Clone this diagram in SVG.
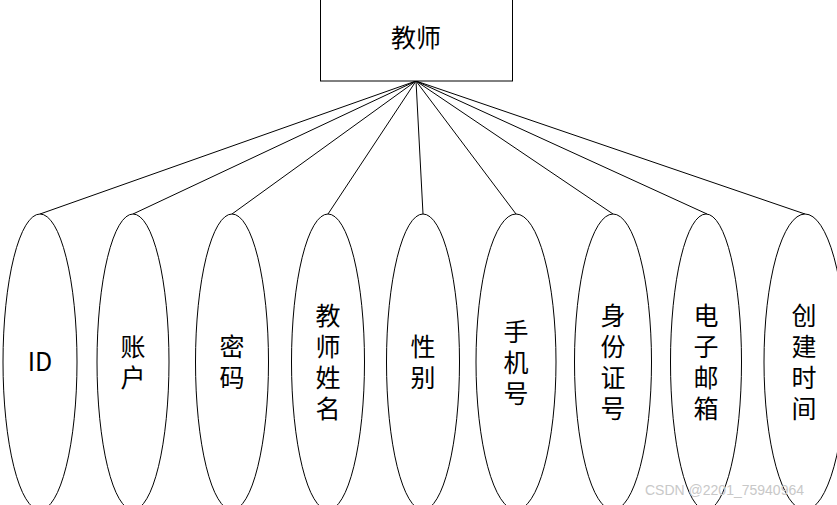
<svg xmlns="http://www.w3.org/2000/svg" width="837" height="505" viewBox="0 0 837 505">
<style>
.box{fill:#fff;stroke:#000;stroke-width:1}
.ell{fill:#fff;stroke:#000;stroke-width:1}
.lbl{font-family:"Noto Sans CJK SC","Noto Sans",sans-serif;font-size:25px;fill:#000;text-anchor:middle;dominant-baseline:central}
.conn line{stroke:#000;stroke-width:1}
.wm{font-family:"Liberation Sans",Arial,sans-serif;font-size:14px;fill:#c8c8c8}
</style>
<rect width="837" height="505" fill="#fff"/>
<g class="conn" id="connectors">
<line x1="416" y1="81" x2="40" y2="214"/>
<line x1="416" y1="81" x2="133" y2="214"/>
<line x1="416" y1="81" x2="232" y2="214"/>
<line x1="416" y1="81" x2="328" y2="214"/>
<line x1="416" y1="81" x2="423" y2="214"/>
<line x1="416" y1="81" x2="516" y2="214"/>
<line x1="416" y1="81" x2="613" y2="214"/>
<line x1="416" y1="81" x2="707" y2="214"/>
<line x1="416" y1="81" x2="805" y2="214"/>
</g>
<g id="teacher">
<rect class="box" x="320.5" y="-1" width="192" height="82"/>
<text class="lbl" x="416" y="36">教师</text>
</g>
<g id="attr-id">
<ellipse class="ell" cx="40" cy="362" rx="37" ry="148"/>
<text class="lbl" x="40" y="360">ID</text>
</g>
<g id="attr-account">
<ellipse class="ell" cx="133" cy="362" rx="36" ry="148"/>
<text class="lbl" x="133" y="345">账</text>
<text class="lbl" x="133" y="376">户</text>
</g>
<g id="attr-password">
<ellipse class="ell" cx="232" cy="362" rx="36.5" ry="148"/>
<text class="lbl" x="232" y="345">密</text>
<text class="lbl" x="232" y="376">码</text>
</g>
<g id="attr-name">
<ellipse class="ell" cx="328" cy="362" rx="36.5" ry="148"/>
<text class="lbl" x="328" y="313.5">教</text>
<text class="lbl" x="328" y="344.5">师</text>
<text class="lbl" x="328" y="375.5">姓</text>
<text class="lbl" x="328" y="406.5">名</text>
</g>
<g id="attr-gender">
<ellipse class="ell" cx="423" cy="362" rx="36.5" ry="148"/>
<text class="lbl" x="423" y="345">性</text>
<text class="lbl" x="423" y="376">别</text>
</g>
<g id="attr-phone">
<ellipse class="ell" cx="516" cy="362" rx="40" ry="148"/>
<text class="lbl" x="516" y="329.5">手</text>
<text class="lbl" x="516" y="360.5">机</text>
<text class="lbl" x="516" y="391.5">号</text>
</g>
<g id="attr-idcard">
<ellipse class="ell" cx="613" cy="362" rx="38.5" ry="148"/>
<text class="lbl" x="613" y="313.5">身</text>
<text class="lbl" x="613" y="344.5">份</text>
<text class="lbl" x="613" y="375.5">证</text>
<text class="lbl" x="613" y="406.5">号</text>
</g>
<g id="attr-email">
<ellipse class="ell" cx="706" cy="362" rx="35.5" ry="148"/>
<text class="lbl" x="706" y="313.5">电</text>
<text class="lbl" x="706" y="344.5">子</text>
<text class="lbl" x="706" y="375.5">邮</text>
<text class="lbl" x="706" y="406.5">箱</text>
</g>
<g id="attr-created">
<ellipse class="ell" cx="805" cy="362" rx="41" ry="148"/>
<text class="lbl" x="804" y="313.5">创</text>
<text class="lbl" x="804" y="344.5">建</text>
<text class="lbl" x="804" y="375.5">时</text>
<text class="lbl" x="804" y="406.5">间</text>
</g>
<text class="wm" x="645" y="495">CSDN @2201_75940964</text>
</svg>
